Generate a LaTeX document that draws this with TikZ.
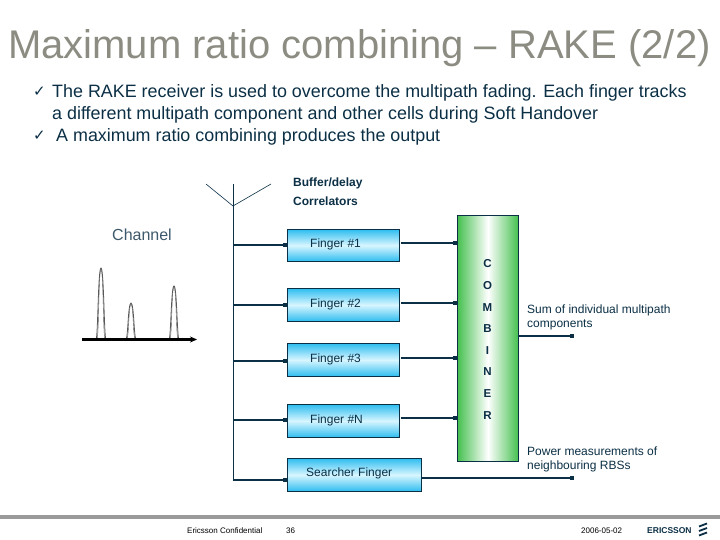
\documentclass[tikz,border=0pt]{standalone}
\usepackage{fontspec}
\setmainfont{Liberation Sans}
\newfontfamily\symfont{DejaVu Sans}
\usetikzlibrary{arrows.meta}
\definecolor{navy}{HTML}{0B2F45}
\definecolor{titlegray}{HTML}{8C8C82}
\definecolor{cyanb}{HTML}{2EBDF0}
\definecolor{cyanl}{HTML}{D8F6FF}
\definecolor{greenb}{HTML}{45C04F}
\definecolor{barg}{HTML}{9A9A9A}
\tikzset{
 fingerbox/.style={draw=navy,line width=0.8pt,top color=cyanb,bottom color=cyanb,middle color=cyanl,anchor=north west,inner sep=0pt},
 feed/.style={draw=navy,line width=1.5pt,-{Square[length=4pt,width=4pt]},shorten >=0pt},
 lbl/.style={text=navy,font=\fontsize{12}{14}\selectfont,anchor=west,inner sep=0pt},
 thinline/.style={draw=navy,line width=0.6pt},
 bul/.style={text=navy,font=\fontsize{17.9}{23}\selectfont,anchor=west,inner sep=0pt},
 chk/.style={text=navy,font=\symfont\fontsize{15}{16}\selectfont,anchor=west,inner sep=0pt},
 foot/.style={text=black,font=\fontsize{8}{10}\selectfont,anchor=west,inner sep=0pt},
 peak/.style={draw=black!65,line width=0.8pt},
 letter/.style={text=navy,font=\bfseries\fontsize{11.5}{14}\selectfont,inner sep=0pt}
}
\begin{document}
\begin{tikzpicture}[x=1pt,y=-1pt]
\useasboundingbox (0,0) rectangle (720,540);
\node[text=titlegray,font=\fontsize{40}{44}\selectfont,anchor=west,inner sep=0pt] (title) at (8,48) {Maximum ratio combining – RAKE (2/2)};
\node[chk] (c1) at (33,92) {✓};
\node[bul] (b1) at (52,92.5) {The RAKE receiver is used to overcome the multipath fading. Each finger tracks};
\node[bul] (b1b) at (52,114.5) {a different multipath component and other cells during Soft Handover};
\node[chk] (c2) at (33,136) {✓};
\node[bul] (b2) at (56,136.5) {A maximum ratio combining produces the output};
\node[lbl,font=\bfseries\fontsize{12}{14}\selectfont] (bd) at (293,183) {Buffer/delay};
\node[lbl,font=\bfseries\fontsize{12}{14}\selectfont] (co) at (293,201) {Correlators};
\node[lbl,text=navy!80,font=\fontsize{16}{18}\selectfont] (chan) at (112,234.5) {Channel};
% finger boxes
\node[fingerbox,minimum width=112pt,minimum height=32pt] (f1) at (287,229) {};
\node[fingerbox,minimum width=112pt,minimum height=33pt] (f2) at (287,288) {};
\node[fingerbox,minimum width=112pt,minimum height=33pt] (f3) at (287,343) {};
\node[fingerbox,minimum width=112pt,minimum height=33pt] (fn) at (287,404) {};
\node[fingerbox,minimum width=134pt,minimum height=33pt] (sf) at (287,458) {};
\node[lbl] at (310,244) {Finger \#1};
\node[lbl] at (310,304) {Finger \#2};
\node[lbl] at (310,359) {Finger \#3};
\node[lbl] at (310,420) {Finger \#N};
\node[lbl] at (306,473) {Searcher Finger};
% combiner
\node[draw=navy,line width=0.8pt,left color=greenb,right color=greenb,middle color=white,anchor=north west,minimum width=61pt,minimum height=246pt,inner sep=0pt] (cmb) at (457,215) {};
\foreach \l/\yy in {C/264,O/286,M/308,B/329,I/351,N/372,E/394,R/416}{\node[letter] at (487.5,\yy) {\l};}
% antenna and mast
\coordinate (mtop) at (233,184);
\coordinate (mroot) at (233,206);
\coordinate (aL) at (206,184);
\coordinate (aR) at (271,184);
\coordinate (j1) at (233,245);
\coordinate (j2) at (233,305);
\coordinate (j3) at (233,361);
\coordinate (jn) at (233,420);
\coordinate (js) at (233,480);
\draw[thinline] (mtop) -- (js);
\draw[thinline] (aL) -- (mroot) -- (aR);
\draw[feed] (j1) -- (f1.west |- j1);
\draw[feed] (j2) -- (f2.west |- j2);
\draw[feed] (j3) -- (f3.west |- j3);
\draw[feed] (jn) -- (fn.west |- jn);
\draw[feed] (js) -- (sf.west |- js);
% outputs
\coordinate (o1) at (401,243);
\coordinate (o2) at (401,303);
\coordinate (o3) at (401,358);
\coordinate (on) at (401,418);
\draw[feed] (o1) -- (cmb.west |- o1);
\draw[feed] (o2) -- (cmb.west |- o2);
\draw[feed] (o3) -- (cmb.west |- o3);
\draw[feed] (on) -- (cmb.west |- on);
\coordinate (sumend) at (574,336);
\coordinate (pwrend) at (574,478);
\draw[feed] (cmb.east |- sumend) -- (sumend);
\draw[feed] (sf.east |- pwrend) -- (pwrend);
\node[lbl] (s1) at (527,310.5) {Sum of individual multipath};
\node[lbl] (s2) at (527,324.5) {components};
\node[lbl] (p1) at (527,451.5) {Power measurements of};
\node[lbl] (p2) at (527,466.5) {neighbouring RBSs};
% channel
\foreach \cx/\ty in {101/268,131/303,174/286}{
 \draw[peak] (\cx-5,339) .. controls (\cx-3,339) and (\cx-3,\ty) .. (\cx,\ty) .. controls (\cx+3,\ty) and (\cx+3,339) .. (\cx+5,339);
 \draw[peak,line width=0.4pt] (\cx-4,339) .. controls (\cx-2,336) and (\cx-2.5,\ty+3) .. (\cx,\ty+1) .. controls (\cx+2.5,\ty+3) and (\cx+2,336) .. (\cx+4,339);
}
\coordinate (ax0) at (82,339.5);
\coordinate (ax1) at (197,339.5);
\draw[black,line width=2.5pt,-{Stealth[length=7pt,width=6pt]}] (ax0) -- (ax1);
% footer
\fill[barg] (0,515) rectangle (720,518.5);
\node[foot] at (187,530.5) {Ericsson Confidential};
\node[foot] at (286,530.5) {36};
\node[foot] at (581,530.5) {2006-05-02};
\node[text=navy,font=\bfseries\fontsize{8.5}{10}\selectfont,anchor=west,inner sep=0pt] at (647,530.5) {ERICSSON};
\foreach \yy in {525,529.5,534}{\draw[navy,line width=1.8pt] (699,\yy+1.5) -- (707,\yy-1.5);}
\end{tikzpicture}
\end{document}
